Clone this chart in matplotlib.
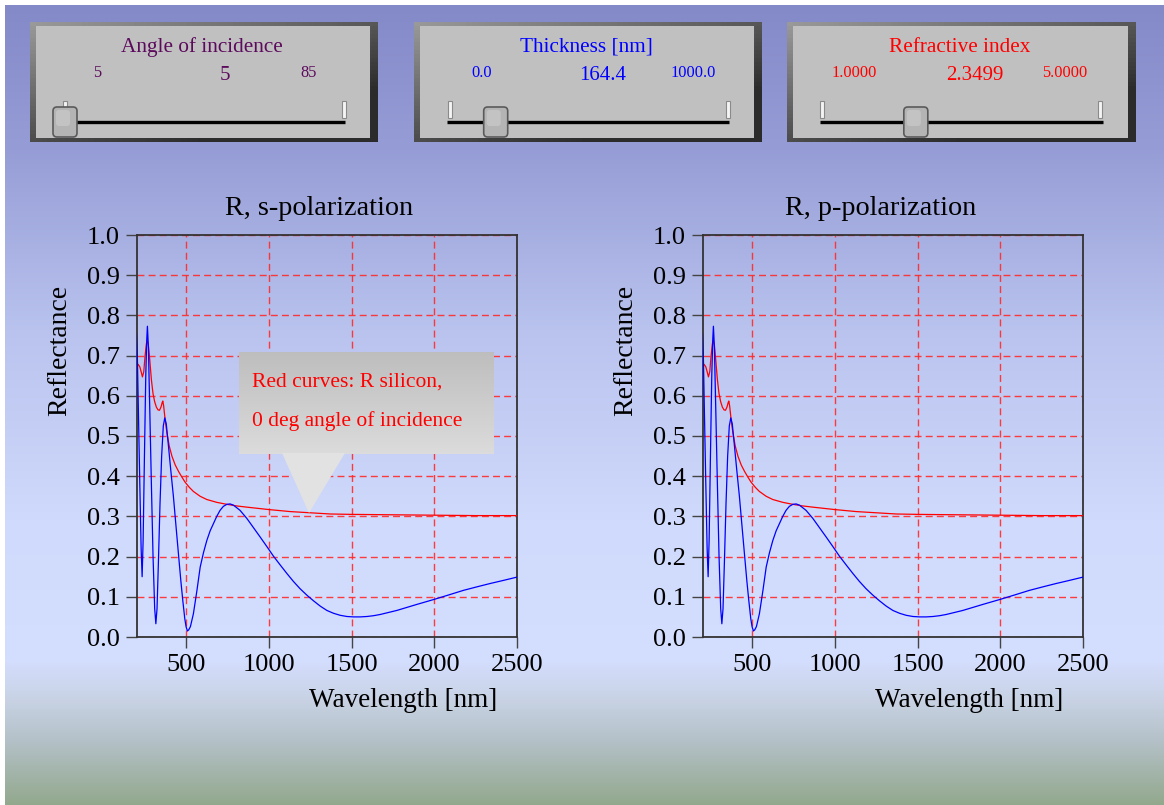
import numpy as np
import matplotlib
matplotlib.use("Agg")
import matplotlib.pyplot as plt
from matplotlib.patches import Rectangle, FancyBboxPatch, Polygon

# ---------------- data ----------------
wl_blue = [200, 205, 212, 220, 228, 234, 240, 248, 256, 262, 266, 272, 280, 290, 300,
           310, 317, 324, 332, 342, 352, 362, 371, 380, 392, 406, 423, 440, 455, 468,
           480, 492, 500, 508, 516, 526, 544, 565, 585, 605, 625, 645, 665, 685, 705,
           725, 746, 766, 786, 826, 867, 907, 947, 988, 1028, 1069, 1109, 1149, 1189,
           1230, 1270, 1310, 1351, 1391, 1431, 1472, 1512, 1552, 1593, 1633, 1673,
           1773, 1894, 2003, 2090, 2176, 2260, 2337, 2420, 2500]
r_blue = [0.755, 0.70, 0.55, 0.38, 0.22, 0.15, 0.24, 0.45, 0.65, 0.74, 0.773, 0.72, 0.57,
          0.38, 0.20, 0.07, 0.033, 0.07, 0.18, 0.33, 0.45, 0.525, 0.545, 0.53, 0.48, 0.42,
          0.35, 0.27, 0.20, 0.14, 0.09, 0.045, 0.025, 0.015, 0.018, 0.026, 0.058, 0.115,
          0.174, 0.21, 0.24, 0.264, 0.282, 0.30, 0.315, 0.325, 0.330, 0.331, 0.328, 0.315,
          0.295, 0.272, 0.249, 0.225, 0.201, 0.179, 0.158, 0.138, 0.120, 0.104, 0.090,
          0.077, 0.066, 0.059, 0.054, 0.051, 0.050, 0.050, 0.051, 0.053, 0.056, 0.066,
          0.081, 0.094, 0.105, 0.116, 0.125, 0.133, 0.141, 0.149]

wl_red = [200, 210, 220, 228, 236, 244, 252, 260, 266, 272, 280, 290, 300, 310, 320, 330,
          339, 348, 355, 359, 364, 372, 383, 398, 414, 434, 454, 474, 494, 520, 544, 585,
          625, 685, 746, 806, 867, 1000, 1129, 1250, 1371, 1502, 1750, 2000, 2250, 2500]
r_red = [0.680, 0.678, 0.672, 0.660, 0.647, 0.66, 0.70, 0.73, 0.737, 0.725, 0.69, 0.64,
         0.605, 0.585, 0.572, 0.565, 0.564, 0.572, 0.583, 0.587, 0.575, 0.545, 0.510,
         0.475, 0.450, 0.428, 0.412, 0.398, 0.385, 0.372, 0.362, 0.350, 0.342, 0.335,
         0.330, 0.326, 0.323, 0.317, 0.312, 0.309, 0.306, 0.305, 0.304, 0.303, 0.302, 0.302]

x_ticks = [500, 1000, 1500, 2000, 2500]
y_ticks = [0.0, 0.1, 0.2, 0.3, 0.4, 0.5, 0.6, 0.7, 0.8, 0.9, 1.0]
titles = ["R, s-polarization", "R, p-polarization"]
x_label = "Wavelength [nm]"
y_label = "Reflectance"

slider_titles = ["Angle of incidence", "Thickness [nm]", "Refractive index"]
slider_mins = [5, 0.0, 1.0]
slider_maxs = [85, 1000.0, 5.0]
slider_vals = [5, 164.4, 2.3499]
slider_fmts = ["{:.0f}", "{:.1f}", "{:.4f}"]
callout_lines = ["Red curves: R silicon,", "0 deg angle of incidence"]

# ---------------- figure ----------------
W, H = 1164, 805
SERIF = ["Liberation Serif", "DejaVu Serif"]
plt.rcParams["font.family"] = SERIF
fig = plt.figure(figsize=(W / 100, H / 100), dpi=100)
fig.patch.set_facecolor("white")

# background axes in pixel coordinates
bg = fig.add_axes([0, 0, 1, 1], zorder=0)
bg.set_xlim(0, W)
bg.set_ylim(H, 0)
bg.axis("off")

# vertical gradient background
stops_y = [6, 150, 330, 520, 660, 700, 740, 805]
stops_c = np.array([[132, 137, 200], [150, 157, 214], [185, 195, 238], [208, 218, 252],
                    [212, 222, 254], [200, 210, 228], [180, 193, 200], [146, 168, 140]]) / 255.0
yy = np.arange(6, H)
grad = np.stack([np.interp(yy, stops_y, stops_c[:, k]) for k in range(3)], axis=-1)
grad = grad[:, None, :]
bg.imshow(grad, extent=(5, W, H, 6), aspect="auto", zorder=0)

# slider panels
panel_x = [(30, 378), (414, 762), (787, 1136)]
panel_colors = ["#5c0a5c", "#0000ff", "#ff0000"]
track_ticks = [(65, 344), (450, 728), (822, 1100)]
track_ends = [(64, 345), (447, 729), (820, 1103)]
for i in range(3):
    x0, x1 = panel_x[i]
    y0, y1 = 22, 142
    # bevel gradient
    nx, ny = 60, 30
    gx = np.linspace(0, 1, nx)[None, :]
    gy = np.linspace(0, 1, ny)[:, None]
    t = np.clip((gx * 0.6 + gy * 0.7), 0, 1)
    c0 = np.array([0.60, 0.60, 0.60])
    c1 = np.array([0.17, 0.17, 0.17])
    img = c0[None, None, :] * (1 - t[..., None]) + c1[None, None, :] * t[..., None]
    bg.imshow(img, extent=(x0, x1, y1, y0), aspect="auto", zorder=1)
    bg.add_patch(Rectangle((x0 + 6, y0 + 4), (x1 - x0) - 14, (y1 - y0) - 8,
                           facecolor="#c0c0c0", edgecolor="none", zorder=2))
    cx = (x0 + x1) / 2
    col = panel_colors[i]
    bg.text(cx - 2, 47, slider_titles[i], color=col, fontsize=15.3,
            ha="center", va="center", zorder=3)
    lt, rt = track_ticks[i]
    bg.text(lt + 32, 73, slider_fmts[i].format(slider_mins[i]), color=col, fontsize=11.8,
            ha="center", va="center", zorder=3)
    bg.text(rt - 35, 73, slider_fmts[i].format(slider_maxs[i]), color=col, fontsize=11.8,
            ha="center", va="center", zorder=3)
    bg.text((lt + rt) / 2 + 20 if i == 0 else (lt + rt) / 2 + 14, 76,
            slider_fmts[i].format(slider_vals[i]), color=col, fontsize=15,
            ha="center", va="center", zorder=3)
    # track
    a, b = track_ends[i]
    bg.plot([a, b], [122, 122], color="black", lw=2.4, solid_capstyle="butt", zorder=3)
    # end markers
    for tx in (lt, rt):
        bg.add_patch(Rectangle((tx - 2, 101), 4, 17, facecolor="#f4f4f4",
                               edgecolor="#8a8a8a", lw=0.8, zorder=3))
    # knob
    frac = (slider_vals[i] - slider_mins[i]) / (slider_maxs[i] - slider_mins[i])
    kx = lt + frac * (rt - lt)
    bg.add_patch(FancyBboxPatch((kx - 10, 109), 20, 26,
                                boxstyle="round,pad=2,rounding_size=4",
                                facecolor="#b4b4b4", edgecolor="#5a5a5a", lw=1.2, zorder=4))
    bg.add_patch(FancyBboxPatch((kx - 8, 111), 12, 14,
                                boxstyle="round,pad=1,rounding_size=3",
                                facecolor="#c8c8c8", edgecolor="none", zorder=4, alpha=0.8))

# ---------------- plots ----------------
axes_left_px = [136.5, 702.5]
ax_w_px, ax_top_px, ax_bot_px = 380.5, 235, 637
title_x = [0.481, 0.468]
for i, lx in enumerate(axes_left_px):
    ax = fig.add_axes([lx / W, (H - ax_bot_px) / H, ax_w_px / W, (ax_bot_px - ax_top_px) / H],
                      zorder=2)
    ax.set_facecolor("none")
    ax.set_xlim(200, 2500)
    ax.set_ylim(0, 1)
    ax.set_axisbelow(True)
    ax.grid(True, color="#ff2a2a", ls=(0, (5, 3)), lw=1.0, alpha=0.9)
    ax.plot(wl_red, r_red, color="#ff0000", lw=0.9, zorder=3)
    ax.plot(wl_blue, r_blue, color="#0000ff", lw=0.9, zorder=4)
    ax.set_xticks(x_ticks)
    ax.set_yticks(y_ticks)
    ax.set_yticklabels([f"{v:.1f}" for v in y_ticks])
    ax.tick_params(direction="out", length=8, width=1.0, color="#444444",
                   labelsize=19, pad=4, labelcolor="black")
    for s in ax.spines.values():
        s.set_color("#333333")
        s.set_linewidth(1.3)
    ax.text(title_x[i], 1.067, titles[i], transform=ax.transAxes, ha="center",
            va="center", fontsize=20.3)
    ax.text(0.70, -0.157, x_label, transform=ax.transAxes, ha="center", va="center",
            fontsize=19.5)
    ax.text(-0.201, 0.714, y_label, transform=ax.transAxes, ha="center", va="center",
            fontsize=20, rotation=90)

# ---------------- callout overlay ----------------
ov = fig.add_axes([0, 0, 1, 1], zorder=5)
ov.set_xlim(0, W)
ov.set_ylim(H, 0)
ov.axis("off")
ov.patch.set_alpha(0)
bx0, by0, bx1, by1 = 239, 353, 494, 454
gbox = np.linspace(0.745, 0.86, 50)[:, None, None] * np.ones((1, 1, 3))
ov.imshow(gbox, extent=(bx0, bx1, by1, by0), aspect="auto", zorder=1)
ov.add_patch(Polygon([(282, 453), (345, 453), (309, 513)], closed=True,
                     facecolor="#e2e2e2", edgecolor="none", zorder=2))
ov.text(252, 382, callout_lines[0], color="#ff0000", fontsize=15.5, ha="left", va="center", zorder=3)
ov.text(252, 421, callout_lines[1], color="#ff0000", fontsize=15.5, ha="left", va="center", zorder=3)
ov.set_xlim(0, W)
ov.set_ylim(H, 0)

fig.savefig("out.png", dpi=100)
